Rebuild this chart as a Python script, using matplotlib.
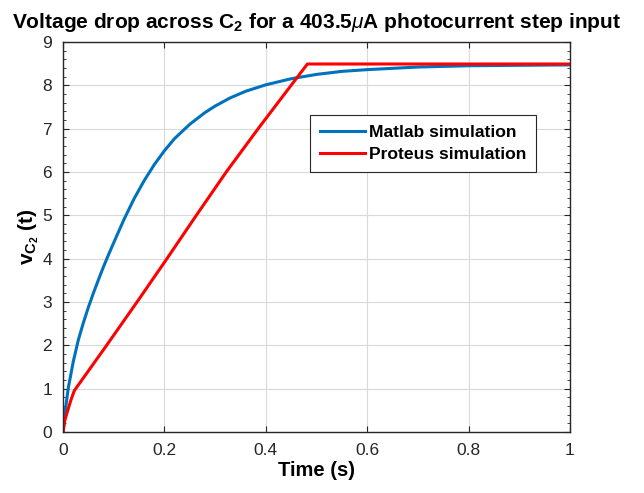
import numpy as np
import matplotlib
matplotlib.use('Agg')
import matplotlib.pyplot as plt
from matplotlib.ticker import MultipleLocator

plt.rcParams['font.family'] = ['Liberation Sans', 'DejaVu Sans']
plt.rcParams['mathtext.fontset'] = 'custom'
plt.rcParams['mathtext.rm'] = 'Liberation Sans'
plt.rcParams['mathtext.it'] = 'Liberation Sans:italic'
plt.rcParams['mathtext.bf'] = 'Liberation Sans:bold'

# matlab model response
t_matlab = [0, 0.005, 0.01, 0.02, 0.03, 0.04, 0.05, 0.06, 0.07, 0.08, 0.09,
            0.10, 0.12, 0.14, 0.16, 0.18, 0.20, 0.22, 0.25, 0.28, 0.30, 0.33,
            0.36, 0.40, 0.45, 0.50, 0.55, 0.60, 0.70, 0.80, 0.90, 1.00]
v_matlab = [0, 0.55, 1.00, 1.62, 2.12, 2.52, 2.88, 3.21, 3.52, 3.82, 4.10,
            4.37, 4.90, 5.38, 5.80, 6.17, 6.49, 6.77, 7.10, 7.37, 7.52, 7.71,
            7.86, 8.01, 8.15, 8.25, 8.32, 8.36, 8.42, 8.45, 8.46, 8.47]

# proteus response
t_proteus = [0, 0.003, 0.008, 0.015, 0.022, 0.086, 0.146, 0.205, 0.263,
             0.322, 0.385, 0.450, 0.482, 1.0]
v_proteus = [0, 0.25, 0.45, 0.72, 0.95, 2.0, 3.0, 4.0, 5.0,
             6.0, 7.0, 8.0, 8.49, 8.49]

fig = plt.figure(figsize=(6.44, 4.93), dpi=100)
ax = fig.add_axes([0.098, 0.124, 0.787, 0.791])

ax.plot(t_matlab, v_matlab, color='#0072BD', lw=2.2, label='Matlab simulation')
ax.plot(t_proteus, v_proteus, color='#FF0000', lw=2.2, label='Proteus simulation')

ax.set_xlim(0, 1)
ax.set_ylim(0, 9)
ax.set_xticks([0, 0.2, 0.4, 0.6, 0.8, 1])
ax.set_xticklabels(['0', '0.2', '0.4', '0.6', '0.8', '1'])
ax.set_yticks(range(10))
ax.yaxis.set_minor_locator(MultipleLocator(0.2))
ax.tick_params(which='both', direction='in', top=True, right=True,
               colors='#262626', labelsize=12.5)
ax.tick_params(which='major', length=4)
ax.tick_params(which='minor', length=2)
ax.tick_params(axis='x', pad=8)
ax.tick_params(axis='y', pad=8)
ax.grid(True, color='#d9d9d9', lw=0.8)
ax.set_axisbelow(True)
for s in ax.spines.values():
    s.set_color('#262626')
    s.set_linewidth(1.0)

ax.set_title(r'Voltage drop across C$_\mathbf{2}$ for a 403.5$\mu$A photocurrent step input',
             fontsize=15, fontweight='bold', pad=10)
ax.set_xlabel('Time (s)', fontsize=14.5, fontweight='bold', labelpad=2)
ax.set_ylabel(r'$\mathbf{v_{C_2}}$ (t)', fontsize=15, fontweight='bold', labelpad=1)

leg = ax.legend(loc='upper left', bbox_to_anchor=(0.487, 0.813), fancybox=False,
                framealpha=1, edgecolor='#262626', handlelength=2.6,
                prop={'weight': 'bold', 'size': 12.6}, borderpad=0.55,
                labelspacing=0.4, handletextpad=0.2, borderaxespad=0)
leg.get_frame().set_linewidth(0.8)

fig.savefig('out.png', dpi=100)
